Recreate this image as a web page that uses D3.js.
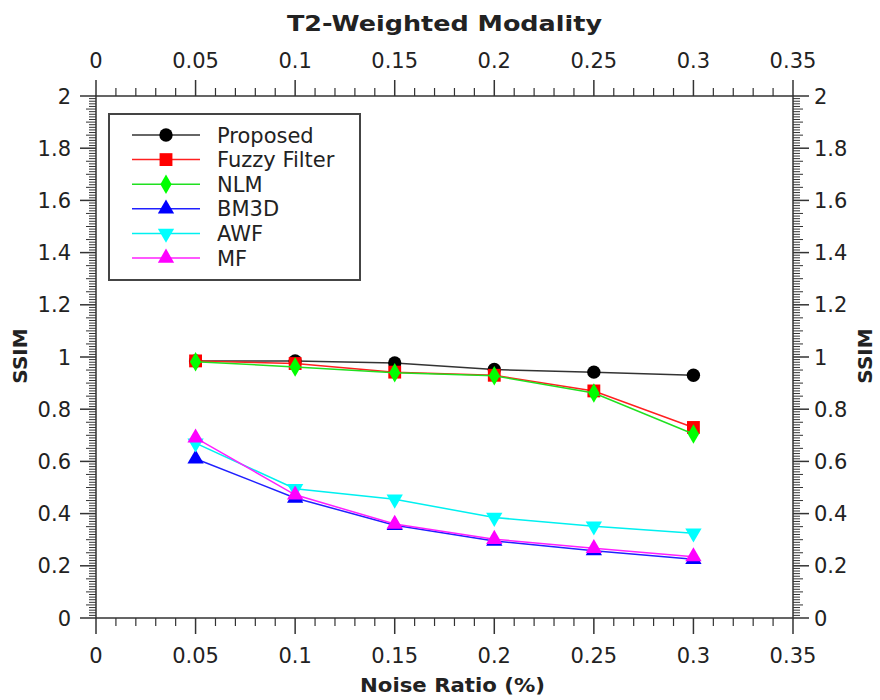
<!DOCTYPE html>
<html>
<head>
<meta charset="utf-8">
<script src="https://cdn.jsdelivr.net/npm/d3@7"></script>
<style>
  body { margin: 0; background: #fff; }
  text { font-family: "DejaVu Sans", sans-serif; fill: #222; }
</style>
</head>
<body>
<svg id="chart" width="880" height="700"></svg>
<script>
// noise ratio values on x
const noise = [0.05, 0.1, 0.15, 0.2, 0.25, 0.3];

const proposed = [0.985, 0.985, 0.977, 0.952, 0.942, 0.93];
const fuzzy    = [0.985, 0.975, 0.942, 0.93, 0.87, 0.73];
const nlm      = [0.982, 0.962, 0.94, 0.928, 0.862, 0.705];
const bm3d     = [0.61, 0.46, 0.355, 0.295, 0.258, 0.225];
const awf      = [0.67, 0.495, 0.455, 0.385, 0.352, 0.325];
const mf       = [0.69, 0.472, 0.36, 0.302, 0.267, 0.235];

const xTicks = [0, 0.05, 0.1, 0.15, 0.2, 0.25, 0.3, 0.35];
const yTicks = [0, 0.2, 0.4, 0.6, 0.8, 1, 1.2, 1.4, 1.6, 1.8, 2];

const series = [
  { name: 'Proposed',     values: proposed, color: '#000000', line: '#333333', sym: d3.symbolCircle,   size: 140 },
  { name: 'Fuzzy Filter', values: fuzzy,    color: '#ff0000', line: '#ff2020', sym: d3.symbolSquare,   size: 165 },
  { name: 'NLM',          values: nlm,      color: '#00ff00', line: '#20e020', sym: d3.symbolDiamond,  size: 110 },
  { name: 'BM3D',         values: bm3d,     color: '#0000ff', line: '#2020ff', sym: d3.symbolTriangle, size: 115 },
  { name: 'AWF',          values: awf,      color: '#00ffff', line: '#00f0f0', sym: d3.symbolTriangle, size: 115, down: true },
  { name: 'MF',           values: mf,       color: '#ff00ff', line: '#ff20ff', sym: d3.symbolTriangle, size: 115 }
];

const svg = d3.select('#chart');
const L = 96, R = 793, T = 96, B = 618;

const x = d3.scaleLinear().domain([0, 0.35]).range([L, R]);
const y = d3.scaleLinear().domain([0, 2]).range([B, T]);

const axisColor = '#333';

// frame
svg.append('rect')
  .attr('x', L).attr('y', T).attr('width', R - L).attr('height', B - T)
  .attr('fill', 'none').attr('stroke', axisColor).attr('stroke-width', 1.5);

// tick helpers (minor / medium / major)
function xTickMarks(yPos, dir) {
  const g = svg.append('g').attr('stroke', axisColor);
  d3.range(0, 36).forEach(i => {
    const v = i / 100;
    const len = i % 5 === 0 ? 16 : 8;
    g.append('line')
      .attr('x1', x(v)).attr('x2', x(v))
      .attr('y1', yPos).attr('y2', yPos + dir * len)
      .attr('stroke-width', i % 5 === 0 ? 1.5 : 1.2);
  });
}
function yTickMarks(xPos, dir) {
  const g = svg.append('g').attr('stroke', axisColor);
  d3.range(0, 201).forEach(i => {
    const v = i / 100;
    const len = i % 20 === 0 ? 16 : (i % 5 === 0 ? 10 : 7);
    g.append('line')
      .attr('x1', xPos).attr('x2', xPos + dir * len)
      .attr('y1', y(v)).attr('y2', y(v))
      .attr('stroke-width', i % 20 === 0 ? 1.5 : 1);
  });
}
xTickMarks(B, 1);
xTickMarks(T, -1);
yTickMarks(L, -1);
yTickMarks(R, 1);

const fmt = d => String(d);

// tick labels
svg.append('g').selectAll('text').data(xTicks).join('text')
  .attr('x', d => x(d)).attr('y', 663)
  .attr('text-anchor', 'middle').attr('font-size', 21)
  .text(fmt);
svg.append('g').selectAll('text').data(xTicks).join('text')
  .attr('x', d => x(d)).attr('y', 68)
  .attr('text-anchor', 'middle').attr('font-size', 21)
  .text(fmt);
svg.append('g').selectAll('text').data(yTicks).join('text')
  .attr('x', 71).attr('y', d => y(d) + 7.5)
  .attr('text-anchor', 'end').attr('font-size', 21)
  .text(fmt);
svg.append('g').selectAll('text').data(yTicks).join('text')
  .attr('x', 814).attr('y', d => y(d) + 7.5)
  .attr('text-anchor', 'start').attr('font-size', 21)
  .text(fmt);

// titles
svg.append('text').attr('x', 287).attr('y', 31)
  .attr('font-size', 22).attr('font-weight', 'bold')
  .attr('textLength', 315).attr('lengthAdjust', 'spacingAndGlyphs')
  .text('T2-Weighted Modality');
svg.append('text').attr('x', 360).attr('y', 692)
  .attr('font-size', 20).attr('font-weight', 'bold')
  .attr('textLength', 185).attr('lengthAdjust', 'spacingAndGlyphs')
  .text('Noise Ratio (%)');
svg.append('text').attr('transform', 'translate(27,356) rotate(-90)')
  .attr('text-anchor', 'middle').attr('font-size', 20).attr('font-weight', 'bold')
  .text('SSIM');
svg.append('text').attr('transform', 'translate(872,356) rotate(-90)')
  .attr('text-anchor', 'middle').attr('font-size', 20).attr('font-weight', 'bold')
  .text('SSIM');

// series
const line = d3.line().x((d, i) => x(noise[i])).y(d => y(d));
series.forEach(s => {
  const g = svg.append('g');
  g.append('path').datum(s.values)
    .attr('d', line).attr('fill', 'none')
    .attr('stroke', s.line).attr('stroke-width', 1.5);
  g.selectAll('path.m').data(s.values).join('path').attr('class', 'm')
    .attr('d', d3.symbol().type(s.sym).size(s.size))
    .attr('transform', (d, i) => `translate(${x(noise[i])},${y(d)})${s.down ? ' rotate(180)' : ''}`)
    .attr('fill', s.color);
});

// legend
const lg = svg.append('g');
lg.append('rect').attr('x', 109).attr('y', 114).attr('width', 251).attr('height', 166)
  .attr('fill', '#fff').attr('stroke', '#444').attr('stroke-width', 2);
series.forEach((s, i) => {
  const yy = 135 + i * 24.6;
  lg.append('line').attr('x1', 132).attr('x2', 200).attr('y1', yy).attr('y2', yy)
    .attr('stroke', s.line).attr('stroke-width', 1.5);
  lg.append('path')
    .attr('d', d3.symbol().type(s.sym).size(s.size))
    .attr('transform', `translate(166,${yy})${s.down ? ' rotate(180)' : ''}`)
    .attr('fill', s.color);
  lg.append('text').attr('x', 217).attr('y', yy + 7.5)
    .attr('font-size', 21)
    .text(s.name);
});
</script>
</body>
</html>
